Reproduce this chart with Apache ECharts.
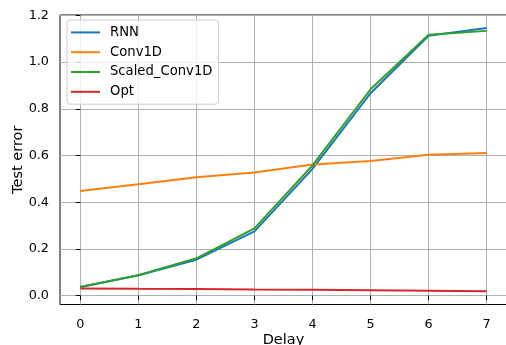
<!DOCTYPE html>
<html>
<head>
<meta charset="utf-8">
<script src="https://cdn.jsdelivr.net/npm/echarts@6/dist/echarts.min.js"></script>
<style>
    html, body { margin: 0; padding: 0; background: #fff; }
    #chartContainer { width: 506px; height: 345px; }
</style>
</head>
<body>
<div id="chartContainer"></div>
<script>
const delays = [0, 1, 2, 3, 4, 5, 6, 7];
const rnn = [0.037, 0.087, 0.154, 0.275, 0.543, 0.867, 1.113, 1.146];
const conv1d = [0.448, 0.477, 0.507, 0.527, 0.562, 0.577, 0.603, 0.611];
const scaledConv1d = [0.037, 0.087, 0.160, 0.288, 0.558, 0.884, 1.117, 1.134];
const opt = [0.031, 0.029, 0.028, 0.026, 0.025, 0.023, 0.021, 0.019];
const xTicks = [0, 1, 2, 3, 4, 5, 6, 7];
const yTicks = [0, 0.2, 0.4, 0.6, 0.8, 1.0, 1.2];

const FONT = 'DejaVu Sans';
let chart = null;

function pairs(values) {
    return delays.map((d, i) => [d, values[i]]);
}

function lineSeries(name, values, color) {
    return {
        name: name,
        type: 'line',
        data: pairs(values),
        symbol: 'none',
        lineStyle: { color: color, width: 2 },
        itemStyle: { color: color },
        emphasis: { disabled: true },
        animation: false
    };
}

document.addEventListener('DOMContentLoaded', function() {
    chart = echarts.init(document.getElementById('chartContainer'));

    const option = {
        animation: false,
        grid: {
            left: 60, top: 15, width: 447, height: 289.5,
            outerBoundsMode: 'none', containLabel: false,
            show: true, borderColor: '#000', borderWidth: 1, backgroundColor: 'transparent'
        },
        legend: {
            orient: 'vertical',
            left: 67, top: 20,
            padding: [5, 6, 5, 4],
            icon: 'rect',
            itemWidth: 29, itemHeight: 2, itemGap: 5,
            backgroundColor: 'rgba(255,255,255,0.8)',
            borderColor: '#cccccc', borderWidth: 1, borderRadius: 3,
            textStyle: { fontFamily: FONT, fontSize: 13.2, color: '#000', lineHeight: 14.8, padding: [0, 0, 0, 5] },
            data: ['RNN', 'Conv1D', 'Scaled_Conv1D', 'Opt']
        },
        xAxis: {
            type: 'value',
            min: -0.35, max: 7.35,
            name: 'Delay', nameLocation: 'middle', nameGap: 28.5, nameMoveOverlap: false,
            nameTextStyle: { fontFamily: FONT, fontSize: 14.5, color: '#000' },
            axisLine: { show: false },
            axisTick: { show: true, length: 4.5, lineStyle: { color: '#000', width: 1 }, customValues: xTicks },
            axisLabel: { fontFamily: FONT, fontSize: 12.8, color: '#000', margin: 13.5, customValues: xTicks, formatter: v => String(v) },
            splitLine: { show: true, lineStyle: { color: '#b0b0b0', width: 1 } }
        },
        yAxis: {
            type: 'value',
            min: -0.038, max: 1.202,
            name: 'Test error', nameLocation: 'middle', nameGap: 34, nameMoveOverlap: false,
            nameTextStyle: { fontFamily: FONT, fontSize: 14.5, color: '#000' },
            axisLine: { show: false },
            axisTick: { show: true, length: 4.5, lineStyle: { color: '#000', width: 1 }, customValues: yTicks },
            axisLabel: { fontFamily: FONT, fontSize: 12.8, color: '#000', margin: 11, customValues: yTicks, formatter: v => v.toFixed(1) },
            splitLine: { show: true, lineStyle: { color: '#b0b0b0', width: 1 } }
        },
        series: [
            lineSeries('RNN', rnn, '#1f77b4'),
            lineSeries('Conv1D', conv1d, '#ff7f0e'),
            lineSeries('Scaled_Conv1D', scaledConv1d, '#2ca02c'),
            lineSeries('Opt', opt, '#d62728')
        ]
    };

    chart.setOption(option);
});
</script>
</body>
</html>
